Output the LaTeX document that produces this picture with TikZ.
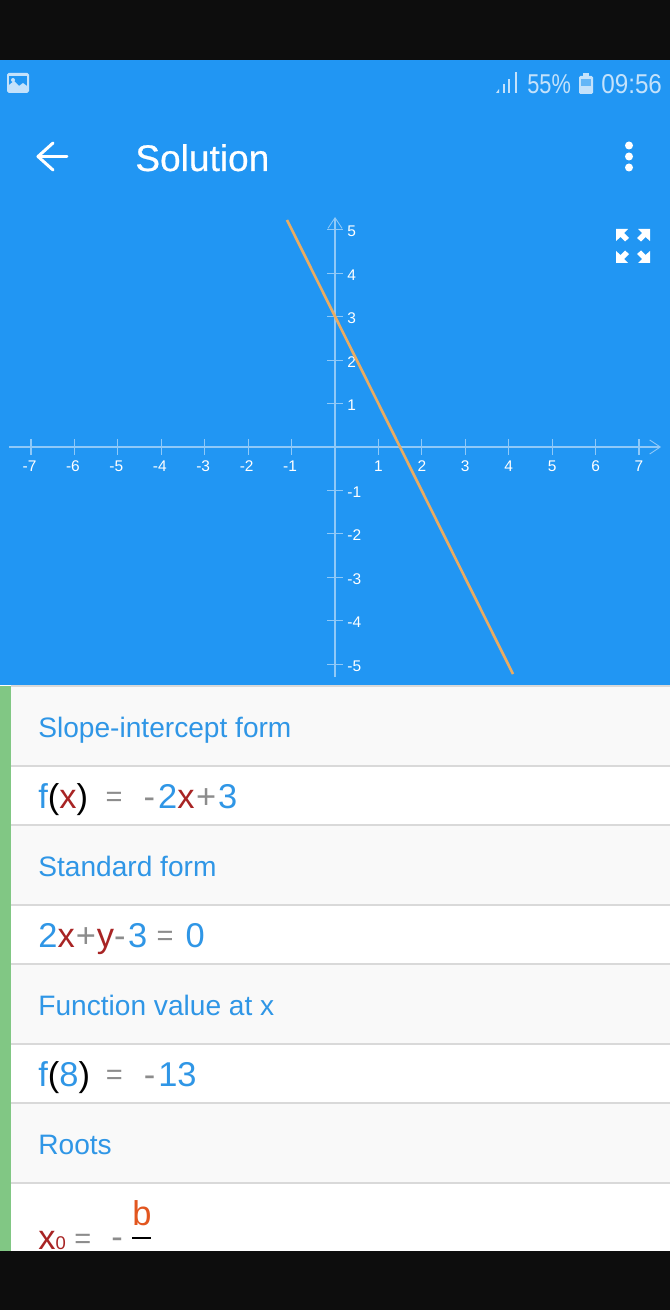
\documentclass[tikz,border=0pt]{standalone}
\usepackage{fontspec}
\setmainfont{Liberation Sans}
\newfontfamily\titlefont[FakeBold=0.5]{Liberation Sans}
\usetikzlibrary{arrows.meta}
\definecolor{appblue}{HTML}{2196F3}
\definecolor{barblack}{HTML}{0D0D0D}
\definecolor{sidegreen}{HTML}{81C784}
\definecolor{headgray}{HTML}{F9F9F9}
\definecolor{rulegray}{HTML}{D9D9D9}
\definecolor{textblue}{HTML}{2F96E6}
\definecolor{varred}{HTML}{A82424}
\definecolor{opgray}{HTML}{8C8C8C}
\definecolor{plotorange}{HTML}{E9AC62}
\definecolor{axisblue}{HTML}{8FC9F8}
\definecolor{statusblue}{HTML}{C4E2FB}
\definecolor{bred}{HTML}{E2561F}
\newcommand{\tb}[1]{\textcolor{textblue}{#1}}
\newcommand{\tr}[1]{\textcolor{varred}{#1}}
\newcommand{\tg}[1]{\textcolor{opgray}{#1}}
\newcommand{\tk}[1]{\textcolor{black}{#1}}
\newcommand{\eqsign}{\raisebox{0.6pt}{\fontsize{16.5pt}{18pt}\selectfont\tg{=}}}

\begin{document}
\begin{tikzpicture}[x=0.02cm,y=-0.02cm]
    % Setup the styles
        \tikzset{txt/.style={inner sep=0pt, anchor=base west},
                 axis label/.style={txt, anchor=base, text=white, font=\fontsize{8.8pt}{10pt}\selectfont},
                 axis line/.style={draw=axisblue, line width=1.1pt},
                 tick line/.style={draw=axisblue, line width=0.6pt},
                 row head/.style={txt, text=textblue, font=\fontsize{16pt}{18pt}\selectfont},
                 row math/.style={txt, font=\fontsize{19.6pt}{22pt}\selectfont},
                 status/.style={txt, text=statusblue, font=\fontsize{15.5pt}{18pt}\selectfont},
                 row rule/.style={draw=rulegray, line width=1.1pt},
                 icon line/.style={draw=white, line width=1.7pt, line cap=round, line join=round}}
        \useasboundingbox (0,0) rectangle (670,1310);
        % Draw the backgrounds
        \fill[appblue] (0,60) rectangle (670,685);
        \fill[white] (0,685) rectangle (670,1251);
        \fill[headgray] (11,686) rectangle (670,766);
        \fill[headgray] (11,825) rectangle (670,905);
        \fill[headgray] (11,964) rectangle (670,1044);
        \fill[headgray] (11,1103) rectangle (670,1183);
        \fill[sidegreen] (0,686) rectangle (11,1251);
        \foreach \y in {686,766,825,905,964,1044,1103,1183}
            \draw[row rule] (11,\y) -- (670,\y);
        % Status bar
        \fill[statusblue, rounded corners=1pt] (7,73) rectangle (29,93);
        \fill[appblue] (9,76) rectangle (27,90);
        \fill[statusblue] (9,90) -- (9,85) -- (14,81) -- (19,86) -- (23,83) -- (27,86) -- (27,90) -- cycle;
        \fill[statusblue] (13,80) circle (2);
        \fill[statusblue] (496,93) -- (499,89) -- (499,93) -- cycle;
        \foreach \x/\t in {503/84,508/79,515/72}
            \fill[statusblue] (\x,\t) rectangle +(2,93-\t);
        \node[status, xscale=0.8] (level) at (527,94) {55\%};
        \fill[statusblue, rounded corners=0.8pt] (579,76) rectangle (593,94);
        \fill[statusblue] (583,73.5) rectangle (589,76);
        \fill[appblue!70!white] (581,79) rectangle (591,86);
        \node[status, xscale=0.89] (clock) at (601,94) {09:56};
        % Title bar
        \coordinate (backtail) at (67,156.5);
        \coordinate (backhead) at (38,156.5);
        \draw[icon line] (backtail) -- (backhead);
        \draw[icon line] (53,143) -- (backhead) -- (53,170);
        \node[txt, text=white, font=\titlefont\fontsize{21.1pt}{24pt}\selectfont] (title) at (135,171) {Solution};
        \foreach \y in {145.5,156.5,167.5}
            \fill[white] (629,\y) circle (4);
        % Expand icon
        \foreach \sx/\sy/\cx/\cy in {1/1/616/229,-1/1/650/229,1/-1/616/263,-1/-1/650/263}
            \fill[white, shift={(\cx,\cy)}, xscale=\sx, yscale=\sy] (0,0) -- (12,0) -- (8,4) -- (13,9) -- (9,12.5) -- (4.5,8) -- (0,12) -- cycle;
        % Draw the axes
        \coordinate (xstart) at (9,447);
        \coordinate (xend) at (661,447);
        \coordinate (ystart) at (335,677);
        \coordinate (yend) at (335,217);
        \draw[axis line, -{Straight Barb[length=6pt,width=8pt,line width=0.5pt]}] (xstart) -- (xend);
        \draw[axis line, -{Straight Barb[length=6pt,width=8pt,line width=0.5pt]}] (ystart) -- (yend);
        \foreach \n in {-7,-6,-5,-4,-3,-2,-1,1,2,3,4,5,6,7} {
            \draw[tick line] ({335+43.43*\n},439) -- ({335+43.43*\n},455);
            \node[axis label] (xlab\n) at ({335+43.43*\n-(\n<0?1.5:0)},472) {\n};
        }
        \foreach \n in {-5,-4,-3,-2,-1,1,2,3,4,5} {
            \draw[tick line] (327,{447-43.43*\n}) -- (343,{447-43.43*\n});
            \node[axis label, anchor=base west] (ylab\n) at (347,{454-43.43*\n}) {\n};
        }
        % Draw the line
        \coordinate (linetop) at (287,220);
        \coordinate (linebot) at (513,674);
        \draw[plotorange, line width=1.5pt] (linetop) -- (linebot);
        % Rows
        \node[row head] (slopehead) at (38,737) {Slope-intercept form};
        \node[row math] (slopemath) at (38,808) {\tb{f}\tk{(}\tr{x}\tk{)}\hspace{10pt}\eqsign\hspace{12pt}\tg{-}\hspace{1.7pt}\tb{2}\tr{x}\hspace{1pt}\tg{+}\hspace{1pt}\tb{3}};
        \node[row head] (stdhead) at (38,876) {Standard form};
        \node[row math] (stdmath) at (38,947) {\tb{2}\tr{x}\hspace{0.6pt}\tg{+}\hspace{0.6pt}\tr{y}\tg{-}\hspace{1.4pt}\tb{3}\hspace{5.4pt}\eqsign\hspace{6.8pt}\tb{0}};
        \node[row head] (valhead) at (38,1015) {Function value at x};
        \node[row math] (valmath) at (38,1086) {\tb{f}\tk{(}\tb{8}\tk{)}\hspace{9pt}\eqsign\hspace{12pt}\tg{-}\hspace{1.7pt}\tb{13}};
        \node[row head] (roothead) at (38,1154) {Roots};
        \node[row math, text=varred] (rootvar) at (38,1249) {x\fontsize{10.5pt}{12pt}\selectfont 0};
        \node[row math, text=opgray, font=\fontsize{16.5pt}{18pt}\selectfont] (rooteq) at (74,1248) {=};
        \node[row math, text=opgray] (rootminus) at (111,1248) {-};
        \node[row math, text=bred] (rootb) at (132,1225.5) {b};
        \coordinate (fracleft) at (132,1238);
        \coordinate (fracright) at (151,1238);
        \draw[black, line width=0.8pt] (fracleft) -- (fracright);
        % Black bands
        \fill[barblack] (0,0) rectangle (670,60);
        \fill[barblack] (0,1251) rectangle (670,1310);
\end{tikzpicture}
\end{document}
